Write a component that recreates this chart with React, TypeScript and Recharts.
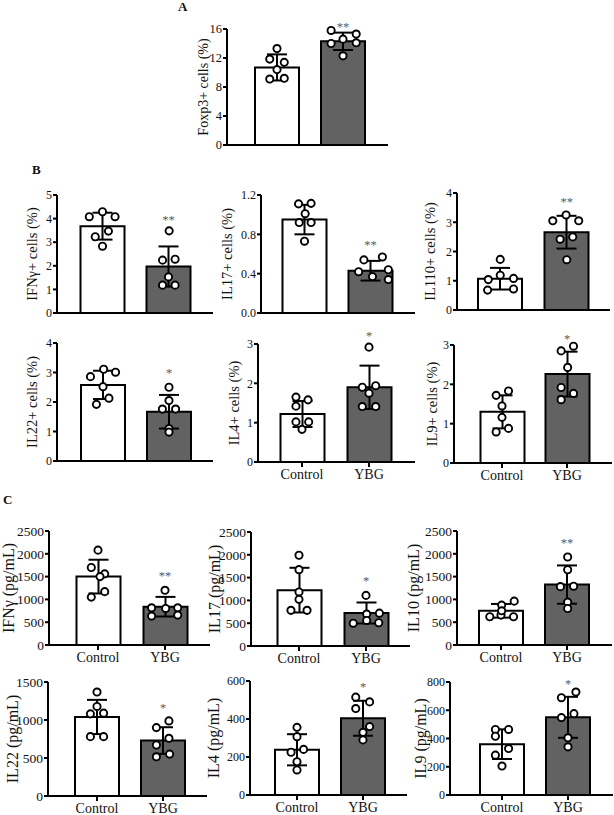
import React from 'react';
import { ComposedChart, Bar, Cell, ErrorBar, Scatter, XAxis, YAxis, ReferenceDot } from 'recharts';

const FONT = '"Liberation Serif", "Times New Roman", Times, serif';
const groups = ['Control', 'YBG'];

// ---- Panel A: Foxp3+ cells (%)
const foxp3Ticks = [0, 4, 8, 12, 16];
const foxp3Mean = [10.7, 14.3];
const foxp3Sd = [1.8, 1.2];
const foxp3Control = [13.3, 11.85, 11.4, 10.4, 9.1, 9.2];
const foxp3Ybg = [15.8, 15.3, 14.6, 14.0, 14.1, 12.3];

// ---- Panel B: % cells
const ifngPctTicks = [0, 1, 2, 3, 4, 5];
const ifngPctMean = [3.68, 1.97];
const ifngPctSd = [0.57, 0.85];
const ifngPctControl = [4.29, 4.08, 4.08, 3.47, 3.23, 2.83];
const ifngPctYbg = [3.48, 2.24, 2.28, 1.53, 1.18, 1.18];

const il17PctTicks = [0, 0.4, 0.8, 1.2];
const il17PctMean = [0.95, 0.43];
const il17PctSd = [0.15, 0.1];
const il17PctControl = [1.11, 1.115, 1.01, 0.92, 0.92, 0.73];
const il17PctYbg = [0.57, 0.54, 0.44, 0.42, 0.37, 0.34];

const il10PctTicks = [0, 1, 2, 3, 4];
const il10PctMean = [1.07, 2.66];
const il10PctSd = [0.37, 0.56];
const il10PctControl = [1.73, 1.19, 1.04, 1.08, 0.68, 0.72];
const il10PctYbg = [3.25, 3.05, 3.05, 2.42, 2.5, 1.72];

const il22PctTicks = [0, 1, 2, 3, 4];
const il22PctMean = [2.58, 1.67];
const il22PctSd = [0.48, 0.57];
const il22PctControl = [3.11, 2.86, 3.01, 2.52, 2.13, 1.92];
const il22PctYbg = [2.5, 2.05, 1.76, 1.76, 1.1, 0.98];

const il4PctTicks = [0, 1, 2, 3];
const il4PctMean = [1.22, 1.9];
const il4PctSd = [0.33, 0.55];
const il4PctControl = [1.65, 1.58, 1.42, 1.02, 1.02, 0.83];
const il4PctYbg = [2.92, 1.9, 1.94, 1.75, 1.41, 1.41];

const il9PctTicks = [0, 1, 2, 3];
const il9PctMean = [1.3, 2.26];
const il9PctSd = [0.42, 0.57];
const il9PctControl = [1.72, 1.83, 1.45, 1.16, 0.79, 0.88];
const il9PctYbg = [2.85, 2.97, 2.43, 1.92, 1.77, 1.61];

// ---- Panel C: pg/mL
const ifngConcTicks = [0, 500, 1000, 1500, 2000, 2500];
const ifngConcMean = [1500, 840];
const ifngConcSd = [370, 215];
const ifngConcControl = [2080, 1700, 1560, 1500, 1050, 1170];
const ifngConcYbg = [1200, 816, 802, 816, 634, 656];

const il17ConcTicks = [0, 500, 1000, 1500, 2000, 2500];
const il17ConcMean = [1225, 724];
const il17ConcSd = [490, 230];
const il17ConcControl = [1990, 1674, 1185, 1023, 782, 782];
const il17ConcYbg = [1110, 720, 700, 500, 560, 510];

const il10ConcTicks = [0, 500, 1000, 1500, 2000, 2500];
const il10ConcMean = [750, 1325];
const il10ConcSd = [150, 420];
const il10ConcControl = [875, 962, 620, 656, 620, 750];
const il10ConcYbg = [1930, 1650, 1280, 1290, 940, 800];

const il22ConcTicks = [0, 500, 1000, 1500];
const il22ConcMean = [1040, 730];
const il22ConcSd = [225, 175];
const il22ConcControl = [1368, 1178, 1081, 1090, 781, 781];
const il22ConcYbg = [988, 900, 759, 671, 551, 516];

const il4ConcTicks = [0, 200, 400, 600];
const il4ConcMean = [238, 404];
const il4ConcSd = [82, 92];
const il4ConcControl = [356, 307, 225, 240, 175, 132];
const il4ConcYbg = [515, 490, 455, 360, 330, 290];

const il9ConcTicks = [0, 200, 400, 600, 800];
const il9ConcMean = [360, 550];
const il9ConcSd = [105, 145];
const il9ConcControl = [464, 464, 416, 329, 282, 205];
const il9ConcYbg = [729, 689, 576, 548, 405, 341];

// significance marks (text, value level)
const sigText = ['**', '**', '**', '**', '*', '*', '*', '**', '*', '**', '*', '*', '*'];
const sigLevel = [16.6, 4.05, 0.71, 3.77, 3.07, 3.27, 3.21, 1567, 1477, 2296, 1187, 579, 800];

type PanelCfg = {
  yLabel: string;
  ticks: number[];
  mean: number[];
  sd: number[];
  pts: number[][];
  jit: number[][];
  x0: number; x1: number; yT: number; yB: number;
  padL: number; padR: number;
  labelDx: number; tickFont: number; labelFont: number;
  showX: boolean; decimals?: number;
};

const panels: PanelCfg[] = [
  { yLabel: 'Foxp3+ cells (%)', ticks: foxp3Ticks, mean: foxp3Mean, sd: foxp3Sd, pts: [foxp3Control, foxp3Ybg],
    jit: [[0, -0.11, 0.11, 0, -0.11, 0.11], [-0.18, 0.2, 0, -0.18, 0.2, 0]],
    x0: 227, x1: 388, yT: 29, yB: 145, padL: 17, padR: 12, labelDx: 24, tickFont: 12.5, labelFont: 14, showX: false },
  { yLabel: 'IFNγ+ cells (%)', ticks: ifngPctTicks, mean: ifngPctMean, sd: ifngPctSd, pts: [ifngPctControl, ifngPctYbg],
    jit: [[0, -0.2, 0.19, 0.09, -0.11, 0], [0.01, -0.09, 0.1, 0, -0.09, 0.1]],
    x0: 57, x1: 213, yT: 195, yB: 313, padL: 12.5, padR: 11.5, labelDx: 25, tickFont: 12, labelFont: 14.5, showX: false },
  { yLabel: 'IL17+ cells (%)', ticks: il17PctTicks, mean: il17PctMean, sd: il17PctSd, pts: [il17PctControl, il17PctYbg],
    jit: [[-0.09, 0.1, 0.01, -0.08, 0.1, 0], [0.18, -0.1, 0.27, -0.18, 0.03, 0.27]],
    x0: 261, x1: 415, yT: 195, yB: 313, padL: 10.5, padR: 11.5, labelDx: 34, tickFont: 12, labelFont: 14.5, showX: false, decimals: 1 },
  { yLabel: 'IL110+ cells (%)', ticks: il10PctTicks, mean: il10PctMean, sd: il10PctSd, pts: [il10PctControl, il10PctYbg],
    jit: [[0, 0, -0.18, 0.2, -0.19, 0.2], [-0.01, -0.21, 0.18, -0.1, 0.09, 0]],
    x0: 457, x1: 610, yT: 193, yB: 310, padL: 10, padR: 10, labelDx: 27, tickFont: 12, labelFont: 14.5, showX: false },
  { yLabel: 'IL22+ cells (%)', ticks: il22PctTicks, mean: il22PctMean, sd: il22PctSd, pts: [il22PctControl, il22PctYbg],
    jit: [[0.01, -0.19, 0.19, 0, 0.09, -0.1], [0, 0, -0.1, 0.1, 0, 0]],
    x0: 57, x1: 213, yT: 343, yB: 461, padL: 13, padR: 11, labelDx: 25, tickFont: 12, labelFont: 14.5, showX: false },
  { yLabel: 'IL4+ cells (%)', ticks: il4PctTicks, mean: il4PctMean, sd: il4PctSd, pts: [il4PctControl, il4PctYbg],
    jit: [[-0.09, 0.09, -0.09, -0.09, 0.1, 0], [0, -0.1, 0.1, 0, -0.1, 0.1]],
    x0: 258, x1: 415, yT: 344, yB: 462, padL: 10.5, padR: 12.5, labelDx: 24, tickFont: 12, labelFont: 14.5, showX: true },
  { yLabel: 'IL9+ cells (%)', ticks: il9PctTicks, mean: il9PctMean, sd: il9PctSd, pts: [il9PctControl, il9PctYbg],
    jit: [[-0.09, 0.1, 0, 0, -0.09, 0.1], [-0.09, 0.1, 0.01, -0.09, 0.1, -0.09]],
    x0: 454, x1: 612, yT: 345, yB: 463, padL: 15.5, padR: 12.5, labelDx: 22, tickFont: 12, labelFont: 14.5, showX: true },
  { yLabel: 'IFNγ (pg/mL)', ticks: ifngConcTicks, mean: ifngConcMean, sd: ifngConcSd, pts: [ifngConcControl, ifngConcYbg],
    jit: [[0, -0.1, 0.1, 0.03, -0.1, 0.1], [0, -0.2, 0.01, 0.19, -0.2, 0.19]],
    x0: 49, x1: 210, yT: 531, yB: 645, padL: 15.5, padR: 11.5, labelDx: 41, tickFont: 13.5, labelFont: 16, showX: true },
  { yLabel: 'IL17 (pg/mL)', ticks: il17ConcTicks, mean: il17ConcMean, sd: il17ConcSd, pts: [il17ConcControl, il17ConcYbg],
    jit: [[0, 0, 0, 0, -0.12, 0.12], [0, 0.2, 0.01, -0.19, 0.01, 0.19]],
    x0: 251, x1: 410, yT: 532, yB: 646, padL: 14.5, padR: 10.5, labelDx: 37, tickFont: 13.5, labelFont: 16, showX: true },
  { yLabel: 'IL10 (pg/mL)', ticks: il10ConcTicks, mean: il10ConcMean, sd: il10ConcSd, pts: [il10ConcControl, il10ConcYbg],
    jit: [[0.01, 0.2, -0.17, 0, 0.19, 0.01], [0.01, 0.01, -0.1, 0.1, 0.01, 0.01]],
    x0: 457, x1: 612, yT: 531, yB: 645, padL: 11, padR: 12, labelDx: 44, tickFont: 13.5, labelFont: 16, showX: true },
  { yLabel: 'IL22 (pg/mL)', ticks: il22ConcTicks, mean: il22ConcMean, sd: il22ConcSd, pts: [il22ConcControl, il22ConcYbg],
    jit: [[0, 0, -0.1, 0.1, -0.1, 0.1], [0.09, -0.1, 0.09, -0.1, 0.1, -0.1]],
    x0: 48, x1: 207, yT: 682, yB: 796, padL: 16, padR: 11, labelDx: 36, tickFont: 13.5, labelFont: 16, showX: true },
  { yLabel: 'IL4 (pg/mL)', ticks: il4ConcTicks, mean: il4ConcMean, sd: il4ConcSd, pts: [il4ConcControl, il4ConcYbg],
    jit: [[0, 0, -0.09, 0.1, 0, 0], [-0.11, 0.1, -0.11, 0.1, 0, 0]],
    x0: 250, x1: 407, yT: 681, yB: 795, padL: 14, padR: 11, labelDx: 37, tickFont: 12, labelFont: 16, showX: true },
  { yLabel: 'IL9 (pg/mL)', ticks: il9ConcTicks, mean: il9ConcMean, sd: il9ConcSd, pts: [il9ConcControl, il9ConcYbg],
    jit: [[-0.1, 0.1, -0.1, 0.1, -0.1, 0], [0.12, -0.1, 0.09, -0.1, 0, 0]],
    x0: 450, x1: 613, yT: 682, yB: 795, padL: 19, padR: 12, labelDx: 30, tickFont: 12, labelFont: 16, showX: true },
];

const ML = 70;
const MT = 22;
const MR = 8;
const XH = 30;

const renderDot = (p: any) => (
  <circle cx={p.cx} cy={p.cy} r={3.6} fill="#fff" stroke="#000" strokeWidth={1.9} />
);

function Panel({ cfg, idx }: { cfg: PanelCfg; idx: number }) {
  const W = cfg.x1 - cfg.x0;
  const H = cfg.yB - cfg.yT;
  const width = ML + W + MR;
  const height = MT + H + XH;
  const barData = groups.map((g, i) => ({ name: g, mean: cfg.mean[i], err: cfg.sd[i] }));
  const pts: { x: number; y: number }[] = [];
  cfg.pts.forEach((arr, gi) => arr.forEach((v, j) => pts.push({ x: gi + cfg.jit[gi][j], y: v })));
  const top = cfg.ticks[cfg.ticks.length - 1];
  const sig = sigText[idx];
  const sigFs = 12.5;
  const yLabel = () => {
    const cx = ML - cfg.labelDx;
    const cy = MT + H / 2;
    return (
      <text x={cx} y={cy} transform={`rotate(-90 ${cx} ${cy})`} textAnchor="middle" dominantBaseline="central"
        fontFamily={FONT} fontSize={cfg.labelFont} fill="#111">{cfg.yLabel}</text>
    );
  };
  return (
    <div style={{ position: 'absolute', left: cfg.x0 - ML, top: cfg.yT - MT }}>
      <ComposedChart width={width} height={height} data={barData} margin={{ top: MT, right: MR, bottom: 0, left: 0 }}>
        <XAxis xAxisId="c" dataKey="name" type="category" height={XH} padding={{ left: cfg.padL, right: cfg.padR }}
          axisLine={{ stroke: '#000', strokeWidth: 2 }} tickLine={{ stroke: '#000', strokeWidth: 2 }} tickSize={5} tickMargin={2}
          interval={0}
          tick={cfg.showX ? { fontFamily: FONT, fontSize: 14, fill: '#111' } : false} />
        <XAxis xAxisId="n" dataKey="x" type="number" domain={[-0.5, 1.5]} padding={{ left: cfg.padL, right: cfg.padR }} hide />
        <YAxis width={ML} domain={[0, top]} ticks={cfg.ticks} interval={0}
          axisLine={{ stroke: '#000', strokeWidth: 2 }} tickLine={{ stroke: '#000', strokeWidth: 2 }} tickSize={4} tickMargin={1}
          tick={{ fontFamily: FONT, fontSize: cfg.tickFont, fill: '#111' }}
          tickFormatter={(v: number) => (cfg.decimals ? v.toFixed(cfg.decimals) : String(v))}
          label={yLabel} />
        <Bar xAxisId="c" dataKey="mean" barSize={44} stroke="#000" strokeWidth={2} isAnimationActive={false}>
          <Cell fill="#ffffff" />
          <Cell fill="#626262" />
          <ErrorBar dataKey="err" width={10} stroke="#000" strokeWidth={2} direction="y" />
        </Bar>
        <Scatter xAxisId="n" data={pts} dataKey="y" shape={renderDot} isAnimationActive={false} />
        <ReferenceDot xAxisId="n" x={1} y={sigLevel[idx]} ifOverflow="visible" r={0}
          shape={(p: any) => (
            <text x={p.cx} y={p.cy + sigFs * 0.5} textAnchor="middle" fontFamily={FONT} fontSize={sigFs} fill="#5a5a5a">{sig}</text>
          )} />
      </ComposedChart>
    </div>
  );
}

const letters = [
  { t: 'A', x: 178, y: 11 },
  { t: 'B', x: 32, y: 174 },
  { t: 'C', x: 3, y: 504 },
];

export default function App() {
  return (
    <div style={{ position: 'absolute', left: 0, top: 0, width: 614, height: 815, overflow: 'hidden', background: '#fff' }}>
      {panels.map((p, i) => (
        <Panel key={i} cfg={p} idx={i} />
      ))}
      <svg width={614} height={815} style={{ position: 'absolute', left: 0, top: 0, pointerEvents: 'none' }}>
        {letters.map((l) => (
          <text key={l.t} x={l.x} y={l.y} fontFamily={FONT} fontWeight="bold" fontSize={13} fill="#111">{l.t}</text>
        ))}
      </svg>
    </div>
  );
}
